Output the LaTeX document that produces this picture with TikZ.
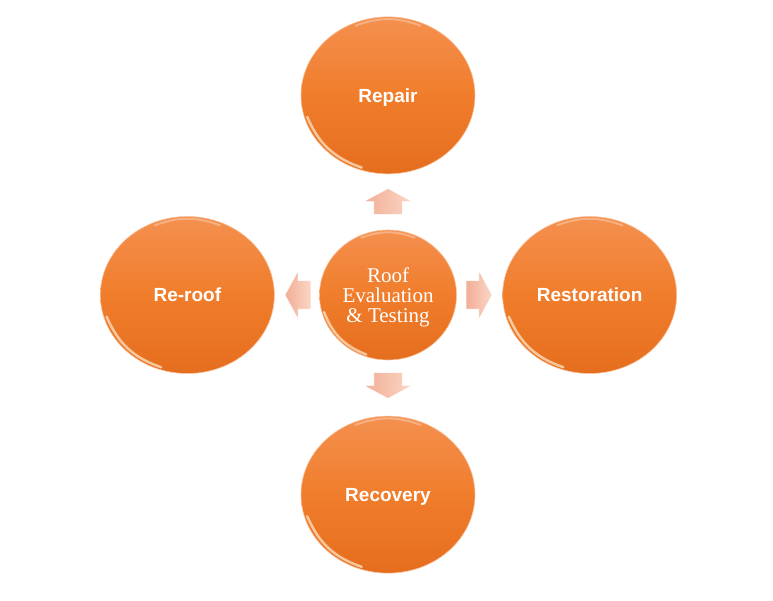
\documentclass[tikz,border=0pt]{standalone}
\usepackage{fontspec}
\setmainfont{Liberation Serif}
\setsansfont{Liberation Sans}
\usetikzlibrary{positioning}
\usetikzlibrary{calc}
\usetikzlibrary{shapes.geometric}
\usetikzlibrary{shapes.arrows}

\definecolor{roofhi}{HTML}{F4904F}
\definecolor{roofmid}{HTML}{F07D2B}
\definecolor{rooflo}{HTML}{E56E1E}
\definecolor{roofglint}{HTML}{FFEBCF}
\definecolor{arrowhi}{HTML}{FBD6C6}
\definecolor{arrowlo}{HTML}{F2AE96}

\tikzset{
  option/.style={ellipse, minimum width=174pt, minimum height=157pt, inner sep=0pt,
    top color=roofhi, bottom color=rooflo, middle color=roofmid,
    draw=roofhi!55!white, line width=0.6pt, text=white, text depth=0pt,
    font=\sffamily\bfseries\fontsize{19}{23}\selectfont},
  hub/.style={option, minimum width=137pt, minimum height=130pt, align=center,
    font=\rmfamily\fontsize{21}{20}\selectfont},
  flow/.style={single arrow, minimum height=26pt, inner xsep=0pt, inner ysep=14pt,
    single arrow head extend=10pt, single arrow tip angle=123,
    left color=arrowlo, right color=arrowhi, draw=white, line width=0.5pt},
  gloss/.style={roofglint, opacity=.7, line width=2.5pt, line cap=round},
  rim/.style={white, opacity=.3, line width=2pt, line cap=round},
}

\begin{document}
\begin{tikzpicture}[x=1pt, y=1pt]
\useasboundingbox (0,0) rectangle (773,601);

\node [hub] (eval) at (388,306) {Roof\\Evaluation\\\& Testing};

\node [flow, rotate=90, above=15pt of eval, anchor=tail] (toRepair) {};
\node [flow, right=9pt of eval, anchor=tail] (toRestore) {};
\node [flow, rotate=180, left=8pt of eval, anchor=tail] (toReroof) {};
\node [flow, rotate=270, below=12pt of eval, anchor=tail] (toRecover) {};

\node [option, above=14pt of toRepair.tip] (repair) {Repair};
\node [option, right=10pt of toRestore.tip] (restore) {Restoration};
\node [option, left=10pt of toReroof.tip] (reroof) {Re-roof};
\node [option, below=17pt of toRecover.tip] (recover) {Recovery};

% glossy edges
\foreach \n in {repair,restore,reroof,recover,eval} {
  \draw [gloss] ($(\n.center)!0.965!(\n.195)$) to[bend right=24] ($(\n.center)!0.965!(\n.250)$);
  \draw [rim] ($(\n.center)!0.96!(\n.65)$) to[bend right=20] ($(\n.center)!0.96!(\n.115)$);
}

\end{tikzpicture}
\end{document}
